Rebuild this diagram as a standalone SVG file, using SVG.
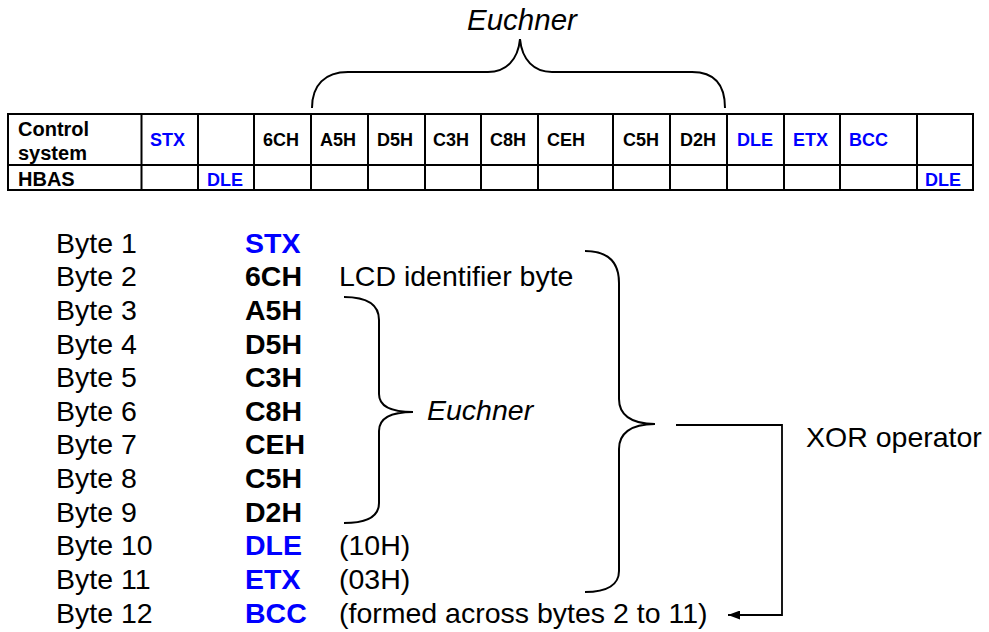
<svg xmlns="http://www.w3.org/2000/svg" width="989" height="632" viewBox="0 0 989 632">
<style>
text{font-family:"Liberation Sans",Arial,sans-serif;fill:#000}
.lab{font-size:20px;font-weight:bold}
.code{font-size:18px;font-weight:bold}
.blue{fill:#0000ff}
.grid{stroke:#000;stroke-width:2;fill:none}
.list{font-size:28.5px}
.bold{font-weight:bold}
.it{font-style:italic}
.brace{fill:none;stroke:#000;stroke-width:2}
.conn{fill:none;stroke:#000;stroke-width:1.8}
</style>
<defs>
<marker id="ah" markerUnits="userSpaceOnUse" markerWidth="12" markerHeight="9" refX="12" refY="4.5" orient="auto">
<path d="M0,0 L12,4.5 L0,9 z" fill="#000"/>
</marker>
</defs>
<rect width="989" height="632" fill="#fff"/>

<g id="euchner-top">
<text class="it" x="467" y="30" font-size="29.5">Euchner</text>
</g>

<g id="table">
<rect class="grid" x="8" y="114" width="965" height="76"/>
<path class="grid" d="M8,165 H973 M141.5,114 V190 M198,114 V190 M254,114 V190 M311,114 V190 M368,114 V190 M425,114 V190 M481,114 V190 M538,114 V190 M613,114 V190 M670,114 V190 M727,114 V190 M784,114 V190 M840,114 V190 M917,114 V190"/>
<text class="lab" x="18" y="135.5">Control</text>
<text class="lab" x="18" y="159.5">system</text>
<text class="lab" x="18" y="185.5">HBAS</text>
<text class="code blue" x="150" y="146">STX</text>
<text class="code" x="263" y="146">6CH</text>
<text class="code" x="320" y="146">A5H</text>
<text class="code" x="377" y="146">D5H</text>
<text class="code" x="433" y="146">C3H</text>
<text class="code" x="490" y="146">C8H</text>
<text class="code" x="547" y="146">CEH</text>
<text class="code" x="623" y="146">C5H</text>
<text class="code" x="680" y="146">D2H</text>
<text class="code blue" x="737" y="146">DLE</text>
<text class="code blue" x="793" y="146">ETX</text>
<text class="code blue" x="849" y="146">BCC</text>
<text class="code blue" x="207" y="185.5">DLE</text>
<text class="code blue" x="925" y="185.5">DLE</text>
</g>

<g id="byte1" class="list"><text x="56" y="252.5">Byte 1</text><text class="bold blue" x="245" y="252.5">STX</text></g>
<g id="byte2" class="list"><text x="56" y="286.2">Byte 2</text><text class="bold" x="245" y="286.2">6CH</text><text x="339" y="286.2">LCD identifier byte</text></g>
<g id="byte3" class="list"><text x="56" y="319.8">Byte 3</text><text class="bold" x="245" y="319.8">A5H</text></g>
<g id="byte4" class="list"><text x="56" y="353.5">Byte 4</text><text class="bold" x="245" y="353.5">D5H</text></g>
<g id="byte5" class="list"><text x="56" y="387.1">Byte 5</text><text class="bold" x="245" y="387.1">C3H</text></g>
<g id="byte6" class="list"><text x="56" y="420.8">Byte 6</text><text class="bold" x="245" y="420.8">C8H</text></g>
<g id="byte7" class="list"><text x="56" y="454.4">Byte 7</text><text class="bold" x="245" y="454.4">CEH</text></g>
<g id="byte8" class="list"><text x="56" y="488.1">Byte 8</text><text class="bold" x="245" y="488.1">C5H</text></g>
<g id="byte9" class="list"><text x="56" y="521.7">Byte 9</text><text class="bold" x="245" y="521.7">D2H</text></g>
<g id="byte10" class="list"><text x="56" y="555.4">Byte 10</text><text class="bold blue" x="245" y="555.4">DLE</text><text x="339" y="555.4">(10H)</text></g>
<g id="byte11" class="list"><text x="56" y="589">Byte 11</text><text class="bold blue" x="245" y="589">ETX</text><text x="339" y="589">(03H)</text></g>
<g id="byte12" class="list"><text x="56" y="622.7">Byte 12</text><text class="bold blue" x="245" y="622.7">BCC</text><text x="339" y="622.7">(formed across bytes 2 to 11)</text></g>

<g id="euchner-mid"><text class="list it" x="427" y="420">Euchner</text></g>
<g id="xor"><text class="list" x="806" y="447">XOR operator</text></g>

<g id="connectors">
<path class="brace" d="M312,108 C312,85 325,72 348,72 L488,72 C506,72 518,60 520,39 C522,60 534,72 552,72 L692,72 C715,72 725,85 725,108"/>
<path class="brace" d="M344,297 C366,297 379,304 379,320 L379,394 C379,406 390,412 413,412 C390,412 379,418 379,431 L379,503 C379,517 366,523 344,523"/>
<path class="brace" d="M585,251 C608,251 619,262 619,283 L619,399 C619,414 630,424 655,424 C630,424 619,434 619,449 L619,571 C619,584 608,592 585,592"/>
<path class="conn" d="M676,425 H782 V615 H728" marker-end="url(#ah)"/>
</g>
</svg>
